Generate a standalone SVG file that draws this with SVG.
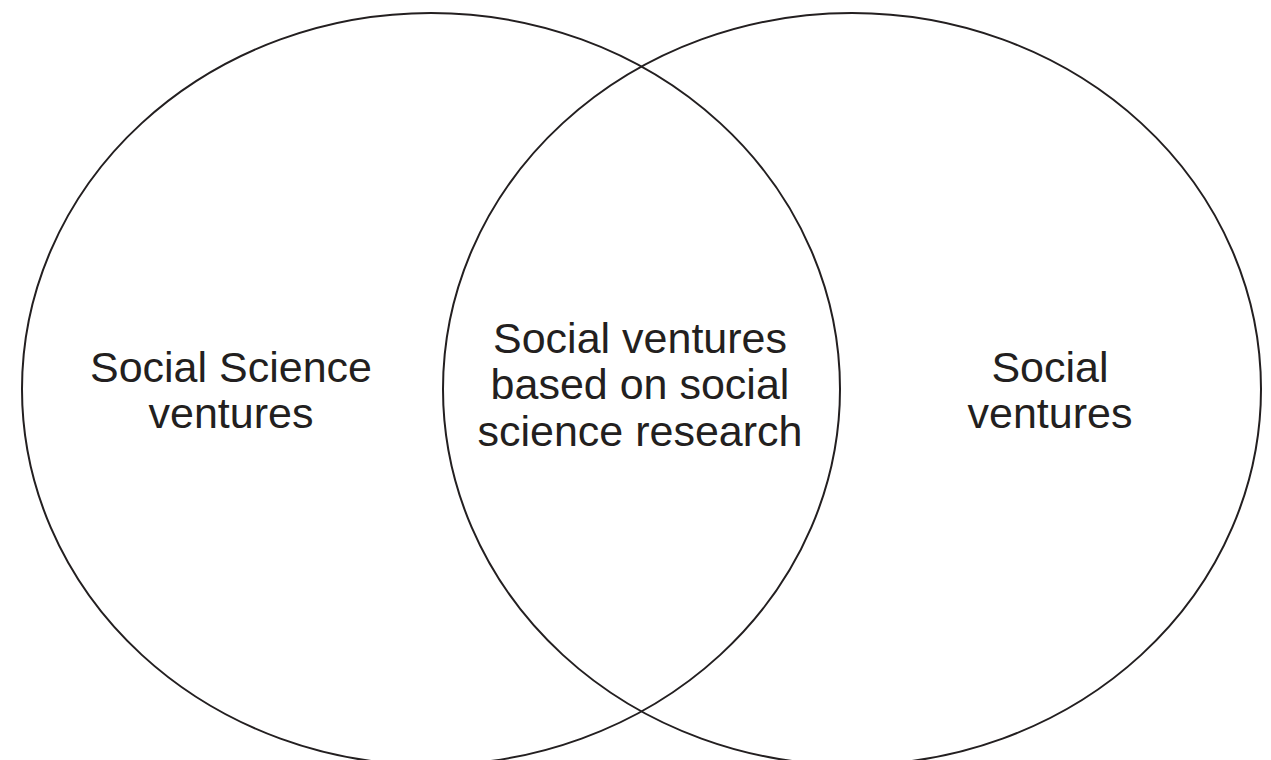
<svg xmlns="http://www.w3.org/2000/svg" width="1271" height="760" viewBox="0 0 1271 760">
<style>
.set{fill:none;stroke:#231f20;stroke-width:2}
.lbl{font-family:"Liberation Sans",Arial,sans-serif;font-size:43px;fill:#231f20;text-anchor:middle}
</style>
<rect width="1271" height="760" fill="#ffffff"/>
<g id="left-set">
<ellipse class="set" cx="431" cy="389" rx="409" ry="376"/>
<text class="lbl" x="231" y="382">Social Science</text>
<text class="lbl" x="231" y="428">ventures</text>
</g>
<g id="right-set">
<ellipse class="set" cx="852" cy="389" rx="409" ry="376"/>
<text class="lbl" x="1050" y="382">Social</text>
<text class="lbl" x="1050" y="428">ventures</text>
</g>
<g id="intersection">
<text class="lbl" x="640" y="353">Social ventures</text>
<text class="lbl" x="640" y="399">based on social</text>
<text class="lbl" x="640" y="446">science research</text>
</g>
<g id="connectors"></g>
</svg>
